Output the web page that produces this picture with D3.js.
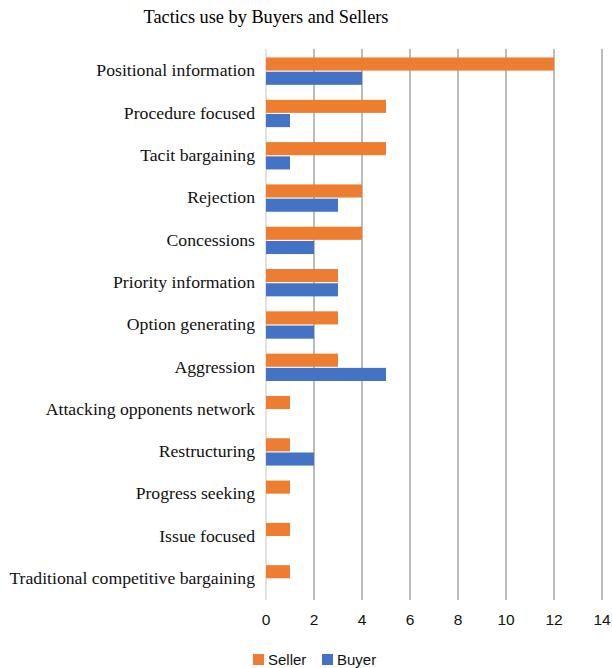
<!DOCTYPE html>
<html>
<head>
<meta charset="utf-8">
<script src="https://cdn.jsdelivr.net/npm/d3@7"></script>
<style>
  body { margin: 0; background: #fff; }
</style>
</head>
<body>
<script>
// tactics data
const categories = [
  "Positional information", "Procedure focused", "Tacit bargaining", "Rejection",
  "Concessions", "Priority information", "Option generating", "Aggression",
  "Attacking opponents network", "Restructuring", "Progress seeking",
  "Issue focused", "Traditional competitive bargaining"
];
const sellerValues = [12, 5, 5, 4, 4, 3, 3, 3, 1, 1, 1, 1, 1];
const buyerValues = [4, 1, 1, 3, 2, 3, 2, 5, 0, 2, 0, 0, 0];
const seriesNames = ["Seller", "Buyer"];
const xTicks = [0, 2, 4, 6, 8, 10, 12, 14];

const colors = { Seller: "#ED7D31", Buyer: "#4472C4" };

let svg = d3.select("body")
  .append("svg")
  .attr("width", 612)
  .attr("height", 668);

let x = d3.scaleLinear().domain([0, 14]).range([266, 602]);
let y = d3.scaleBand().domain(categories).range([50, 600])
  .paddingInner(0.3).paddingOuter(0.15);
let ySub = d3.scaleBand().domain(seriesNames).range([0, y.bandwidth()]).padding(0.08);

// title
svg.append("text")
  .attr("x", 266)
  .attr("y", 23)
  .attr("text-anchor", "middle")
  .style("font-family", "Liberation Serif")
  .style("font-size", "18.3px")
  .text("Tactics use by Buyers and Sellers");

// gridlines
svg.append("g")
  .selectAll("line")
  .data(xTicks)
  .join("line")
  .attr("x1", d => x(d))
  .attr("x2", d => x(d))
  .attr("y1", 49)
  .attr("y2", 600)
  .style("stroke", d => d === 0 ? "#d9d9d9" : "#a6a6a6")
  .style("stroke-width", 1.5);

// bars
let rows = categories.map((c, i) => ({ c, Seller: sellerValues[i], Buyer: buyerValues[i] }));
let groups = svg.append("g")
  .selectAll("g")
  .data(rows)
  .join("g")
  .attr("transform", d => `translate(0,${y(d.c)})`);

groups.selectAll("rect")
  .data(d => seriesNames.map(s => ({ s, v: d[s] })))
  .join("rect")
  .attr("x", x(0))
  .attr("y", d => ySub(d.s))
  .attr("width", d => x(d.v) - x(0))
  .attr("height", ySub.bandwidth())
  .style("fill", d => colors[d.s]);

// category labels
svg.append("g")
  .selectAll("text")
  .data(categories)
  .join("text")
  .attr("x", 255)
  .attr("y", d => y(d) + y.bandwidth() / 2 - 1)
  .attr("dy", "0.35em")
  .attr("text-anchor", "end")
  .style("font-family", "Liberation Serif")
  .style("font-size", "17.7px")
  .style("fill", "#111")
  .text(d => d);

// x tick labels
svg.append("g")
  .selectAll("text")
  .data(xTicks)
  .join("text")
  .attr("x", d => x(d))
  .attr("y", 625)
  .attr("text-anchor", "middle")
  .style("font-family", "Liberation Sans")
  .style("font-size", "15.5px")
  .style("fill", "#111")
  .text(d => d);

// legend
let legend = svg.append("g")
  .selectAll("g")
  .data(seriesNames)
  .join("g")
  .attr("transform", (d, i) => `translate(${253 + i * 69},654)`);
legend.append("rect")
  .attr("width", 11)
  .attr("height", 11)
  .style("fill", d => colors[d]);
legend.append("text")
  .attr("x", 15)
  .attr("y", 11)
  .style("font-family", "Liberation Sans")
  .style("font-size", "15px")
  .style("fill", "#111")
  .text(d => d);
</script>
</body>
</html>
